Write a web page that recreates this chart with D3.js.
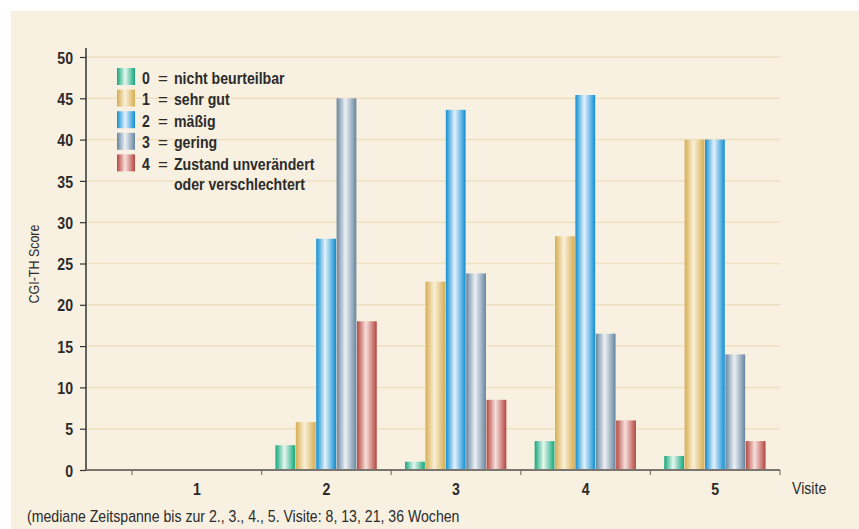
<!DOCTYPE html>
<html><head><meta charset="utf-8">
<script src="https://cdn.jsdelivr.net/npm/d3@7"></script>
<style>
html,body{margin:0;padding:0;background:#fff;}
svg{display:block;}
text{font-family:"Liberation Sans",Arial,sans-serif;fill:#2b2b2b;}
</style></head>
<body>
<svg id="c" width="859" height="529"></svg>
<script>
const visits = ["1","2","3","4","5"];
const seriesNames = ["0 = nicht beurteilbar","1 = sehr gut","2 = mäßig","3 = gering","4 = Zustand unverändert"];
const seriesKeys = ["0","1","2","3","4"];
const s0 = [0, 3.0, 1.0, 3.5, 1.7];
const s1 = [0, 5.8, 22.8, 28.3, 40.0];
const s2 = [0, 28.0, 43.6, 45.4, 40.0];
const s3 = [0, 45.0, 23.8, 16.5, 14.0];
const s4 = [0, 18.0, 8.5, 6.0, 3.5];
const yTicks = [0,5,10,15,20,25,30,35,40,45,50];

const seriesVals = [s0,s1,s2,s3,s4];
const edge = ["#14a77c","#d6ad52","#0f8fd2","#6785a0","#b5463f"];
const mid  = ["#e6f7ef","#faf0d8","#e4f1fd","#edf1f5","#f7e0dc"];

const svg = d3.select("#c");
svg.append("rect").attr("x",11).attr("y",11).attr("width",848).attr("height",518).attr("fill","#f8f0e1");

const defs = svg.append("defs");
seriesKeys.forEach((k,i)=>{
  const g = defs.append("linearGradient").attr("id","g"+i).attr("x1","0").attr("x2","1").attr("y1","0").attr("y2","0");
  g.append("stop").attr("offset","0%").attr("stop-color",edge[i]);
  g.append("stop").attr("offset","45%").attr("stop-color",mid[i]);
  g.append("stop").attr("offset","100%").attr("stop-color",edge[i]);
});

const y = d3.scaleLinear().domain([0,50]).range([470,57]);
const x = d3.scaleBand().domain(visits).range([132,780]).paddingInner(0).paddingOuter(0);
const xs = d3.scaleBand().domain(seriesKeys).range([0,x.bandwidth()]).paddingOuter(0.68).paddingInner(0);

// grid
svg.append("g").selectAll("line").data(yTicks.filter(d=>d>0)).join("line")
  .attr("x1",86).attr("x2",780).attr("y1",d=>y(d)).attr("y2",d=>y(d))
  .attr("stroke","#efe0bf").attr("stroke-width",1.5);

// y axis
const ya = svg.append("g").attr("transform","translate(86,0)")
  .call(d3.axisLeft(y).tickValues(yTicks).tickSize(6).tickPadding(7));
ya.select(".domain").remove();
ya.selectAll(".tick line").attr("stroke","#333").attr("stroke-width",1.2);
ya.selectAll(".tick text").attr("font-size",17).attr("font-weight","bold").attr("dy","0.36em")
  .attr("font-family","Liberation Sans, Arial, sans-serif").attr("class","nar").style("fill","#2b2b2b");
svg.append("line").attr("x1",86).attr("x2",86).attr("y1",48).attr("y2",471).attr("stroke","#333").attr("stroke-width",1.5);

// bars
seriesKeys.forEach((k,i)=>{
  svg.append("g").selectAll("rect").data(visits.map((v,j)=>({v,val:seriesVals[i][j]}))).join("rect")
    .attr("x",d=>x(d.v)+xs(k))
    .attr("width",xs.bandwidth()-0.6)
    .attr("y",d=>y(d.val))
    .attr("height",d=>y(0)-y(d.val))
    .attr("fill","url(#g"+i+")");
});

// x axis
const xa = svg.append("g").attr("transform","translate(0,470)")
  .call(d3.axisBottom(x).tickSize(0).tickPadding(13));
xa.select(".domain").remove();
xa.selectAll(".tick text").attr("font-size",17).attr("font-weight","bold")
  .attr("font-family","Liberation Sans, Arial, sans-serif").attr("class","nar").style("fill","#2b2b2b");
svg.append("line").attr("x1",86).attr("x2",780).attr("y1",470).attr("y2",470).attr("stroke","#7a756e").attr("stroke-width",2);
const boundaries = visits.map(v=>x(v)).concat([x(visits[visits.length-1])+x.bandwidth()]);
svg.append("g").selectAll("line").data(boundaries).join("line")
  .attr("x1",d=>d).attr("x2",d=>d).attr("y1",470).attr("y2",475)
  .attr("stroke","#7a756e").attr("stroke-width",1.2);

svg.append("text").attr("class","nar").attr("x",792).attr("y",494).attr("font-size",17).text("Visite");

// y label
svg.append("text").attr("class","nar").attr("transform","translate(39,264) rotate(-90)").attr("text-anchor","middle")
  .attr("font-size",15).text("CGI-TH Score");

// footnote
svg.append("text").attr("class","nar").attr("x",27).attr("y",522).attr("font-size",17).text("(mediane Zeitspanne bis zur 2., 3., 4., 5. Visite: 8, 13, 21, 36 Wochen");

// legend
const lg = svg.append("g");
seriesKeys.forEach((k,i)=>{
  const top = 68 + i*21.6;
  lg.append("rect").attr("x",117).attr("y",top).attr("width",18).attr("height",17).attr("fill","url(#g"+i+")");
  const parts = seriesNames[i].split(" = ");
  const bl = top + 15.5;
  lg.append("text").attr("class","nar").attr("x",142).attr("y",bl).attr("font-size",17).attr("font-weight","bold").text(parts[0]);
  lg.append("text").attr("x",158).attr("y",bl).attr("font-size",17).text("=");
  lg.append("text").attr("class","nar").attr("x",174).attr("y",bl).attr("font-size",17).attr("font-weight","bold").text(parts[1]);
});
lg.append("text").attr("class","nar").attr("x",174).attr("y",190).attr("font-size",17).attr("font-weight","bold").text("oder verschlechtert");

// condense text to a narrow face look
svg.selectAll("text.nar").each(function(){
  const w = this.getComputedTextLength();
  d3.select(this).attr("textLength", w*0.83).attr("lengthAdjust","spacingAndGlyphs");
});
</script>
</body></html>
